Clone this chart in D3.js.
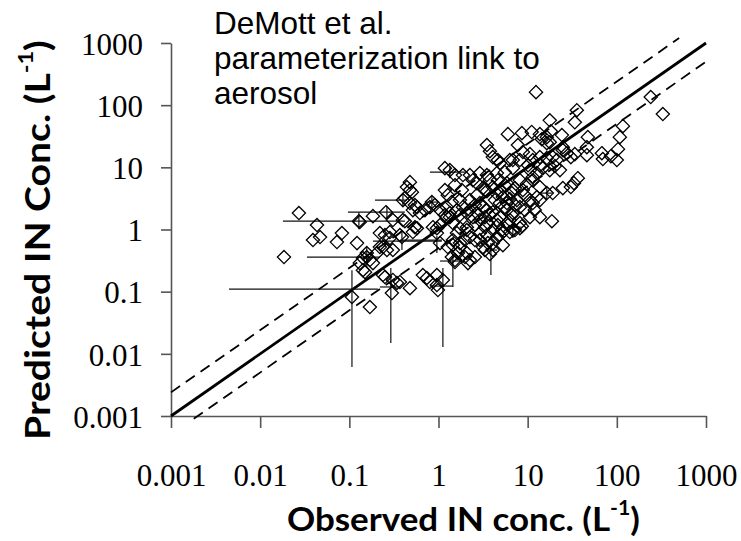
<!DOCTYPE html>
<html><head><meta charset="utf-8">
<script src="https://cdn.jsdelivr.net/npm/d3@7"></script>
<style>body{margin:0;background:#fff}</style>
</head><body>
<svg id="chart" width="741" height="541"></svg>
<script>
// ---------- data ----------
const tickValues = [0.001, 0.01, 0.1, 1, 10, 100, 1000];
const tickLabels = ["0.001", "0.01", "0.1", "1", "10", "100", "1000"];
const xTitle = "Observed IN conc. (L";
const yTitle = "Predicted IN Conc. (L";
const noteLines = ["DeMott et al.", "parameterization link to", "aerosol"];

const observed = [0.0185,0.0272,0.0434,0.0469,0.0391,0.0826,0.0726,0.122,0.128,0.142,0.157,0.142,0.107,0.184,0.257,0.308,0.420,0.184,0.150,0.238,
0.308,0.369,0.478,0.300,0.170,0.220,0.285,0.369,0.573,0.516,0.238,0.308,0.668,0.801,0.959,0.478,0.442,0.503,0.399,0.543,
0.516,0.618,0.843,0.704,0.399,0.131,0.959,0.251,0.285,0.264,0.389,0.220,0.204,0.157,0.170,0.131,0.342,0.251,0.741,0.959,
0.985,1.12,1.53,1.18,1.34,1.53,1.88,2.43,2.91,3.49,1.18,1.27,1.41,1.24,1.74,1.88,2.08,2.43,1.34,1.45,
1.74,1.61,2.08,2.25,2.56,2.91,1.45,1.74,2.08,2.25,3.31,3.49,3.58,3.58,3.31,1.04,0.959,12.4,35.6,33.8,
17.7,240,328,117,108,103,100,85.7,69.7,67.9,47.3,46.1,46.1,30.5,33.8,27.5,24.8,36.5,33.0,30.5,
24.8,6.00,8.61,11.1,13.7,14.4,18.2,17.7,24.2,3.49,3.77,4.07,8.83,10.6,11.4,13.7,16.4,19.1,6.31,4.88,
6.82,5.55,4.52,10.6,12.7,14.8,17.7,20.2,8.18,9.79,11.4,13.7,16.4,3.77,4.07,3.49,4.52,5.27,6.31,3.15,
4.07,4.88,8.18,6.65,18.7,8.61,6.82,2.91,3.31,3.49,4.07,3.15,4.07,3.77,4.88,5.27,10.6,12.7,6.65,2.25,
2.69,3.15,4.88,5.85,6.82,11.4,0.478,0.420,0.478,0.573,0.911,1.04,1.24,2.08,5.85,7.57,9.30,11.4,13.7,19.1,
4.88,6.31,8.18,10.6,13.7,2.91,6.82,16.4,16.4,24.8,21.2,0.543,0.865,1.04,1.41,1.65,1.53,1.98,2.14,2.56,
1.27,1.45,1.74,2.91,4.07,4.52,5.14,6.31,7.19,8.18,3.31,4.52,5.85,6.82,1.34,1.61,2.25,2.69,0.801,
4.63,5.55,7.19,8.83,4.30,5.55,7.19,9.30,12.0,2.69,2.25,1.83,2.56,3.77,4.63,6.00,2.56,1.98,5.27,1.74,
10.1,8.18,13.7,23.0,7.77,4.63,1.53,1.18];

const predicted = [0.360,1.84,1.18,0.755,0.676,0.875,0.627,0.604,1.36,0.347,0.360,0.222,0.082,1.64,1.90,1.42,1.36,0.288,0.206,0.185,
0.154,0.143,0.114,0.095,0.0565,0.875,0.908,0.813,1.05,0.908,0.521,0.467,0.185,0.143,0.128,5.78,4.81,3.99,2.97,2.47,
2.05,1.84,2.76,2.05,1.42,1.32,1.05,0.813,0.727,0.467,0.755,0.521,0.418,0.418,0.322,0.288,0.138,0.172,0.166,0.185,
0.106,0.154,0.322,9.71,9.02,7.50,7.50,6.22,8.07,7.50,4.30,3.57,2.76,2.29,2.97,2.29,1.84,1.58,1.58,1.27,
1.05,0.875,0.978,0.755,0.676,0.875,0.561,0.521,0.418,0.322,4.30,2.05,1.27,0.604,0.467,1.18,0.875,162,83,53,
57,135,72,46,30.6,19.6,13.1,15.1,13.6,16.9,30.6,21.1,15.7,14.6,16.3,16.9,18.9,6.70,5.57,4.81,
4.63,34.2,35.5,37,34.2,28.4,38,25.4,33,22.8,18.2,14.6,17.6,16.3,13.1,14.6,14.1,14.6,13.1,11.7,
9.71,8.37,8.07,9.02,8.07,9.71,9.02,10.5,6.22,5.37,6.22,4.81,3.85,6.22,4.81,4.14,3.71,3.32,3.08,2.29,
1.90,2.66,2.29,1.71,1.36,1.13,0.978,1.42,1.09,0.813,0.978,0.521,0.467,0.403,0.813,0.908,2.97,3.32,3.85,7.50,
5.57,4.63,4.30,5.57,4.30,6.95,4.30,3.20,2.66,2.29,2.47,2.05,1.58,1.09,2.66,2.97,3.57,2.66,2.97,3.85,
1.58,1.42,1.27,1.58,1.58,2.66,13.1,24.5,30.6,21.1,13.1,1.09,1.09,0.604,0.360,0.418,0.299,0.360,0.288,0.360,
0.521,0.676,0.604,0.676,0.604,0.755,0.978,0.908,0.978,1.05,1.58,1.42,2.05,1.84,1.84,2.05,2.05,1.84,2.29,
6.22,5.17,4.63,4.30,2.97,2.29,2.47,2.05,2.05,3.57,2.97,4.30,2.47,1.71,1.18,1.18,1.18,0.676,0.561,1.71,
10.8,13.1,10.8,9.02,22.8,13.1,5.17,1.71];

// error bars: centre, x range, y range
const errX   = [0.107,0.128,0.157,0.292,1.12,1.45,0.389,3.87,6.82,0.399,0.264,1.34,0.959,16.4,0.843];
const errY   = [0.110,1.36,0.360,0.119,0.123,0.311,0.651,0.467,1.09,2.97,1.90,8.37,0.676,3.85,2.76];
const errXLo = [0.00447,0.018,0.0335,0.220,0.801,1.04,0.184,3.31,6.00,0.194,0.0965,0.801,0.369,14.1,0.722];
const errXHi = [0.209,0.420,0.220,0.369,1.45,1.83,1.09,4.52,8.61,0.442,0.420,1.98,1.09,19.1,0.985];
const errYLo = [0.00613,1.01,0.240,0.0149,0.0129,0.119,0.467,0.185,0.727,2.38,1.52,6.70,0.418,3.08,2.21];
const errYHi = [0.222,1.90,0.521,0.240,0.240,0.467,0.978,0.604,1.52,3.71,2.38,10.5,0.783,4.81,3.44];

// reference lines y = factor * x
const refFactor = [1, 2.4, 0.5];
const refXStart = [0.001, 0.001, 0.0018];
const refXEnd   = [1000, 500, 1000];
const refDash   = [null, "11,7", "11,7"];

// ---------- drawing ----------
const svg = d3.select("#chart");
const x = d3.scaleLog().domain([0.001, 1000]).range([171, 706]);
const y = d3.scaleLog().domain([0.001, 1000]).range([416, 43]);
const axisColor = "#555";

// axes
const gx = svg.append("g").attr("transform", "translate(0,416)")
  .call(d3.axisBottom(x).tickValues(tickValues).tickFormat((d, i) => tickLabels[i]).tickSize(12).tickSizeOuter(0));
gx.select(".domain").attr("stroke", axisColor).attr("stroke-width", 1.6);
gx.selectAll(".tick line").attr("stroke", axisColor).attr("stroke-width", 1.6);
gx.selectAll(".tick text").attr("y", 70).attr("dy", null)
  .attr("font-family", "'Liberation Serif', serif").attr("font-size", 31).attr("fill", "#000");

const gy = svg.append("g").attr("transform", "translate(171,0)")
  .call(d3.axisLeft(y).tickValues(tickValues).tickFormat((d, i) => tickLabels[i]).tickSize(10).tickSizeOuter(0));
gy.select(".domain").attr("stroke", axisColor).attr("stroke-width", 1.6);
gy.selectAll(".tick line").attr("stroke", axisColor).attr("stroke-width", 1.6);
gy.selectAll(".tick text").attr("x", -28).attr("dy", "0.36em")
  .attr("font-family", "'Liberation Serif', serif").attr("font-size", 31).attr("fill", "#000");

// reference lines
const refG = svg.append("g");
refFactor.forEach((f, i) => {
  refG.append("line")
    .attr("x1", x(refXStart[i])).attr("y1", y(refXStart[i] * f))
    .attr("x2", x(refXEnd[i])).attr("y2", y(refXEnd[i] * f))
    .attr("stroke", "#000")
    .attr("stroke-width", i === 0 ? 2.8 : 1.8)
    .attr("stroke-dasharray", refDash[i]);
});

// error bars
const eg = svg.append("g").attr("stroke", "#111").attr("stroke-width", 1.2);
errX.forEach((cx, i) => {
  eg.append("line").attr("x1", x(errXLo[i])).attr("x2", x(errXHi[i]))
    .attr("y1", y(errY[i])).attr("y2", y(errY[i]));
  eg.append("line").attr("x1", x(cx)).attr("x2", x(cx))
    .attr("y1", y(errYLo[i])).attr("y2", y(errYHi[i]));
});

// diamonds
const s = 6.6;
svg.append("g").selectAll("path").data(observed.map((d, i) => [d, predicted[i]]))
  .join("path")
  .attr("d", d => {
    const px = x(d[0]), py = y(d[1]);
    return `M${px},${py - s}L${px + s},${py}L${px},${py + s}L${px - s},${py}Z`;
  })
  .attr("fill", "none").attr("stroke", "#000").attr("stroke-width", 1.3);

// annotation
const note = svg.append("text").attr("font-family", "'Liberation Sans', Arial, sans-serif")
  .attr("font-size", 31.5).attr("fill", "#000");
noteLines.forEach((t, i) => {
  note.append("tspan").attr("x", 214).attr("y", 34 + i * 35).text(t);
});

// titles (bold, Calibri-like)
function title(g, label, size, supSize, supRise, target) {
  const t = g.append("text").attr("font-family", "Lato, 'Open Sans', sans-serif")
    .attr("font-weight", 700).attr("font-size", size).attr("fill", "#000");
  t.append("tspan").text(label);
  t.append("tspan").attr("font-size", supSize).attr("dy", -supRise).text("-1");
  t.append("tspan").attr("dy", supRise).text(")");
  const w = t.node().getBBox().width;
  t.attr("transform", `scale(${target / w},1)`);
}
const gxt = svg.append("g").attr("transform", "translate(287,531)");
title(gxt, xTitle, 33, 20, 16, 353);
const gyt = svg.append("g").attr("transform", "translate(50,440) rotate(-90)");
title(gyt, yTitle, 35, 21, 17, 400);
</script>
</body></html>
